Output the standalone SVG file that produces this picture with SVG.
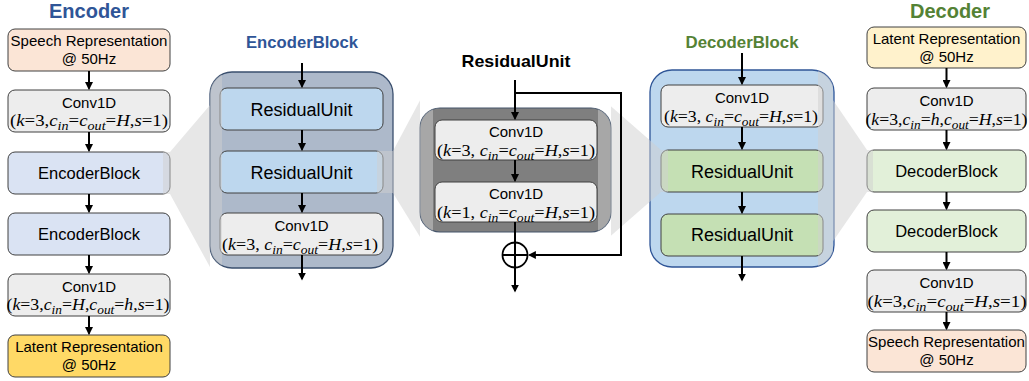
<svg xmlns="http://www.w3.org/2000/svg" width="1029" height="381" viewBox="0 0 1029 381">
<style>
.box{stroke:#404040;stroke-width:1}
.t{font-family:"Liberation Sans",Arial,sans-serif;font-size:15px;fill:#000;text-anchor:middle}
.tb{font-family:"Liberation Sans",Arial,sans-serif;font-size:16.5px;fill:#000;text-anchor:middle}
.tr{font-family:"Liberation Sans",Arial,sans-serif;font-size:18px;fill:#000;text-anchor:middle}
.f{font-family:"Liberation Serif","Times New Roman",serif;font-size:16px;fill:#000;text-anchor:middle}
.i{font-style:italic}
.s{font-size:12px;font-style:italic}
.title{font-family:"Liberation Sans",Arial,sans-serif;font-weight:bold;text-anchor:middle}
.c{stroke:#000;stroke-width:2;fill:none}
.a{marker-end:url(#ah)}
.ov{fill:#D0D0D0;fill-opacity:0.5}
.speech{fill:#FBE5D6}
.conv{fill:#EDEDED}
.encb{fill:#DAE3F3}
.decb{fill:#E2F0D9}
.ru{fill:#BDD7EE}
.rug{fill:#C5E0B4}
</style>
<defs>
<marker id="ah" viewBox="0 0 10 10" refX="8" refY="5" markerWidth="8" markerHeight="8" markerUnits="userSpaceOnUse" orient="auto"><path d="M0,0 L10,5 L0,10 z" fill="#000"/></marker>
<clipPath id="cA"><rect x="0" y="0" width="210" height="381"/><rect x="210" y="72" width="183" height="196" rx="22"/></clipPath>
<clipPath id="cB"><rect x="0" y="0" width="420" height="381"/><rect x="420" y="108" width="191" height="124" rx="20"/></clipPath>
<clipPath id="cC"><rect x="420" y="108" width="191" height="124" rx="20"/><rect x="611" y="0" width="418" height="381"/></clipPath>
<clipPath id="cD"><rect x="650" y="70" width="184" height="197" rx="22"/><rect x="834" y="0" width="195" height="381"/></clipPath>
</defs>
<rect width="1029" height="381" fill="#fff"/>

<!-- Encoder column -->
<g id="encoder-title"><text class="title" x="89" y="18" font-size="20" fill="#2F5597">Encoder</text></g>
<g id="enc-speech"><rect class="box speech" x="8" y="29" width="162" height="42" rx="7"/><text class="t" x="89" y="46">Speech Representation</text><text class="t" x="89" y="64">@ 50Hz</text></g>
<g id="enc-conv1"><rect class="box conv" x="8" y="90" width="162" height="42" rx="7"/><text class="t" x="89" y="108">Conv1D</text>
<text class="f" x="89" y="126" textLength="158" lengthAdjust="spacingAndGlyphs">(<tspan class="i">k</tspan>=3,<tspan class="i">c</tspan><tspan class="s" dy="4">in</tspan><tspan dy="-4">=</tspan><tspan class="i">c</tspan><tspan class="s" dy="4">out</tspan><tspan dy="-4">=</tspan><tspan class="i">H</tspan>,<tspan class="i">s</tspan>=1)</text></g>
<g id="enc-block1"><rect class="box encb" x="8" y="152" width="162" height="42" rx="7"/><text class="tb" x="89" y="179">EncoderBlock</text></g>
<g id="enc-block2"><rect class="box encb" x="8" y="213" width="162" height="42" rx="7"/><text class="tb" x="89" y="240">EncoderBlock</text></g>
<g id="enc-conv2"><rect class="box conv" x="8" y="274" width="162" height="42" rx="7"/><text class="t" x="89" y="292">Conv1D</text>
<text class="f" x="88" y="310" textLength="163" lengthAdjust="spacingAndGlyphs">(<tspan class="i">k</tspan>=3,<tspan class="i">c</tspan><tspan class="s" dy="4">in</tspan><tspan dy="-4">=</tspan><tspan class="i">H</tspan>,<tspan class="i">c</tspan><tspan class="s" dy="4">out</tspan><tspan dy="-4">=</tspan><tspan class="i">h</tspan>,<tspan class="i">s</tspan>=1)</text></g>
<g id="enc-latent"><rect class="box" fill="#FFD966" x="8" y="335" width="162" height="42" rx="7"/><text class="t" x="89" y="352">Latent Representation</text><text class="t" x="89" y="370">@ 50Hz</text></g>

<!-- EncoderBlock panel -->
<g id="encoderblock-panel">
<text class="title" x="302" y="48" font-size="16.5" fill="#2F5597" textLength="112" lengthAdjust="spacingAndGlyphs">EncoderBlock</text>
<rect x="210" y="72" width="183" height="196" rx="22" fill="#ADB9CA" stroke="#3A4F6E" stroke-width="1.3"/>
<g id="eb-ru1"><rect class="box ru" x="220" y="88" width="163" height="42" rx="7"/><text class="tr" x="301.5" y="116">ResidualUnit</text></g>
<g id="eb-ru2"><rect class="box ru" x="220" y="151" width="163" height="42" rx="7"/><text class="tr" x="301.5" y="179">ResidualUnit</text></g>
<g id="eb-conv"><rect class="box conv" x="220" y="213" width="163" height="42" rx="7"/><text class="t" x="301.5" y="231">Conv1D</text>
<text class="f" x="300" y="250" textLength="156" lengthAdjust="spacingAndGlyphs">(<tspan class="i">k</tspan>=3, <tspan class="i">c</tspan><tspan class="s" dy="4">in</tspan><tspan dy="-4">=</tspan><tspan class="i">c</tspan><tspan class="s" dy="4">out</tspan><tspan dy="-4">=</tspan><tspan class="i">H</tspan>,<tspan class="i">s</tspan>=1)</text></g>
</g>

<!-- ResidualUnit panel -->
<g id="residualunit-panel">
<text class="title" x="516" y="67" font-size="17" fill="#000" textLength="109" lengthAdjust="spacingAndGlyphs">ResidualUnit</text>
<rect x="420" y="108" width="191" height="124" rx="20" fill="#7F7F7F" stroke="#44546A" stroke-width="1.2"/>
<g id="ru-conv1"><rect class="box conv" x="435" y="120" width="162" height="40" rx="7"/><text class="t" x="516" y="137">Conv1D</text>
<text class="f" x="516" y="156" textLength="158" lengthAdjust="spacingAndGlyphs">(<tspan class="i">k</tspan>=3, <tspan class="i">c</tspan><tspan class="s" dy="4">in</tspan><tspan dy="-4">=</tspan><tspan class="i">c</tspan><tspan class="s" dy="4">out</tspan><tspan dy="-4">=</tspan><tspan class="i">H</tspan>,<tspan class="i">s</tspan>=1)</text></g>
<g id="ru-conv2"><rect class="box conv" x="435" y="182" width="162" height="40" rx="7"/><text class="t" x="516" y="199">Conv1D</text>
<text class="f" x="516" y="218" textLength="158" lengthAdjust="spacingAndGlyphs">(<tspan class="i">k</tspan>=1, <tspan class="i">c</tspan><tspan class="s" dy="4">in</tspan><tspan dy="-4">=</tspan><tspan class="i">c</tspan><tspan class="s" dy="4">out</tspan><tspan dy="-4">=</tspan><tspan class="i">H</tspan>,<tspan class="i">s</tspan>=1)</text></g>
</g>

<!-- DecoderBlock panel -->
<g id="decoderblock-panel">
<text class="title" x="742" y="48" font-size="16.5" fill="#548235" textLength="113" lengthAdjust="spacingAndGlyphs">DecoderBlock</text>
<rect x="650" y="70" width="184" height="197" rx="22" fill="#BDD7EE" stroke="#2F5597" stroke-width="1.3"/>
<g id="db-conv"><rect class="box conv" x="661" y="85" width="162" height="42" rx="7"/><text class="t" x="742" y="103">Conv1D</text>
<text class="f" x="741" y="122" textLength="154" lengthAdjust="spacingAndGlyphs">(<tspan class="i">k</tspan>=3, <tspan class="i">c</tspan><tspan class="s" dy="4">in</tspan><tspan dy="-4">=</tspan><tspan class="i">c</tspan><tspan class="s" dy="4">out</tspan><tspan dy="-4">=</tspan><tspan class="i">H</tspan>,<tspan class="i">s</tspan>=1)</text></g>
<g id="db-ru1"><rect class="box rug" x="661" y="150" width="162" height="42" rx="7"/><text class="tr" x="742" y="178">ResidualUnit</text></g>
<g id="db-ru2"><rect class="box rug" x="661" y="214" width="162" height="42" rx="7"/><text class="tr" x="742" y="241">ResidualUnit</text></g>
</g>

<!-- Decoder column -->
<g id="decoder-title"><text class="title" x="950" y="18" font-size="20" fill="#548235">Decoder</text></g>
<g id="dec-latent"><rect class="box" fill="#FFF2CC" x="867" y="27" width="159" height="41" rx="7"/><text class="t" x="946.5" y="44">Latent Representation</text><text class="t" x="946.5" y="62">@ 50Hz</text></g>
<g id="dec-conv1"><rect class="box conv" x="867" y="88" width="159" height="42" rx="7"/><text class="t" x="946.5" y="106">Conv1D</text>
<text class="f" x="946.5" y="125" textLength="162" lengthAdjust="spacingAndGlyphs">(<tspan class="i">k</tspan>=3,<tspan class="i">c</tspan><tspan class="s" dy="4">in</tspan><tspan dy="-4">=</tspan><tspan class="i">h</tspan>,<tspan class="i">c</tspan><tspan class="s" dy="4">out</tspan><tspan dy="-4">=</tspan><tspan class="i">H</tspan>,<tspan class="i">s</tspan>=1)</text></g>
<g id="dec-block1"><rect class="box decb" x="867" y="150" width="159" height="42" rx="7"/><text class="tb" x="946.5" y="177">DecoderBlock</text></g>
<g id="dec-block2"><rect class="box decb" x="867" y="210" width="159" height="42" rx="7"/><text class="tb" x="946.5" y="237">DecoderBlock</text></g>
<g id="dec-conv2"><rect class="box conv" x="867" y="270" width="159" height="42" rx="7"/><text class="t" x="946.5" y="288">Conv1D</text>
<text class="f" x="947" y="307" textLength="159" lengthAdjust="spacingAndGlyphs">(<tspan class="i">k</tspan>=3,<tspan class="i">c</tspan><tspan class="s" dy="4">in</tspan><tspan dy="-4">=</tspan><tspan class="i">c</tspan><tspan class="s" dy="4">out</tspan><tspan dy="-4">=</tspan><tspan class="i">H</tspan>,<tspan class="i">s</tspan>=1)</text></g>
<g id="dec-speech"><rect class="box speech" x="867" y="330" width="159" height="42" rx="7"/><text class="t" x="946.5" y="347">Speech Representation</text><text class="t" x="946.5" y="365">@ 50Hz</text></g>

<!-- zoom overlays -->
<g id="zoom-overlays">
<path class="ov" clip-path="url(#cA)" d="M163,152 L170,152 L222,91 L222,289 L170,194 L163,194 Z M210,72 h12 v196 h-12 Z"/>
<path class="ov" clip-path="url(#cB)" d="M377,151 L393,151 L433,76 L433,258 L393,193 L377,193 Z M420,108 h13 v124 h-13 Z"/>
<path class="ov" clip-path="url(#cC)" d="M598,95 L661,150 L668,150 L668,192 L661,192 L598,247 Z M604,108 h7 v124 h-7 Z"/>
<path class="ov" clip-path="url(#cD)" d="M818,78 L867,150 L873,150 L873,192 L867,192 L818,263 Z M818,70 h15 v197 h-15 Z"/>
</g>

<!-- connectors -->
<g id="connectors">
<line class="c a" x1="89" y1="71" x2="89" y2="88.5"/>
<line class="c a" x1="89" y1="132" x2="89" y2="150.5"/>
<line class="c a" x1="89" y1="194" x2="89" y2="211.5"/>
<line class="c a" x1="89" y1="255" x2="89" y2="272.5"/>
<line class="c a" x1="89" y1="316" x2="89" y2="333.5"/>

<line class="c a" x1="302" y1="63" x2="302" y2="86.5"/>
<line class="c a" x1="302" y1="130" x2="302" y2="149.5"/>
<line class="c a" x1="302" y1="193" x2="302" y2="211.5"/>
<line class="c a" x1="302" y1="255" x2="302" y2="279"/>

<line class="c a" x1="515" y1="80" x2="515" y2="118.5"/>
<polyline class="c a" points="515,93 621,93 621,255 529.5,255"/>
<line class="c a" x1="515" y1="160" x2="515" y2="180.5"/>
<line class="c" x1="515" y1="222" x2="515" y2="242.5"/>
<g id="ru-sum"><circle cx="515" cy="255" r="12.5" fill="#fff" stroke="#000" stroke-width="1.8"/><line class="c" x1="515" y1="242.5" x2="515" y2="267.5"/><line class="c" x1="502.5" y1="255" x2="527.5" y2="255"/></g>
<line class="c a" x1="515" y1="267.5" x2="515" y2="291"/>

<line class="c a" x1="742" y1="53" x2="742" y2="83.5"/>
<line class="c a" x1="742" y1="127" x2="742" y2="148.5"/>
<line class="c a" x1="742" y1="192" x2="742" y2="212.5"/>
<line class="c a" x1="742" y1="256" x2="742" y2="280"/>

<line class="c a" x1="946.5" y1="68" x2="946.5" y2="86.5"/>
<line class="c a" x1="946.5" y1="130" x2="946.5" y2="148.5"/>
<line class="c a" x1="946.5" y1="192" x2="946.5" y2="208.5"/>
<line class="c a" x1="946.5" y1="252" x2="946.5" y2="268.5"/>
<line class="c a" x1="946.5" y1="312" x2="946.5" y2="328.5"/>
</g>
</svg>
